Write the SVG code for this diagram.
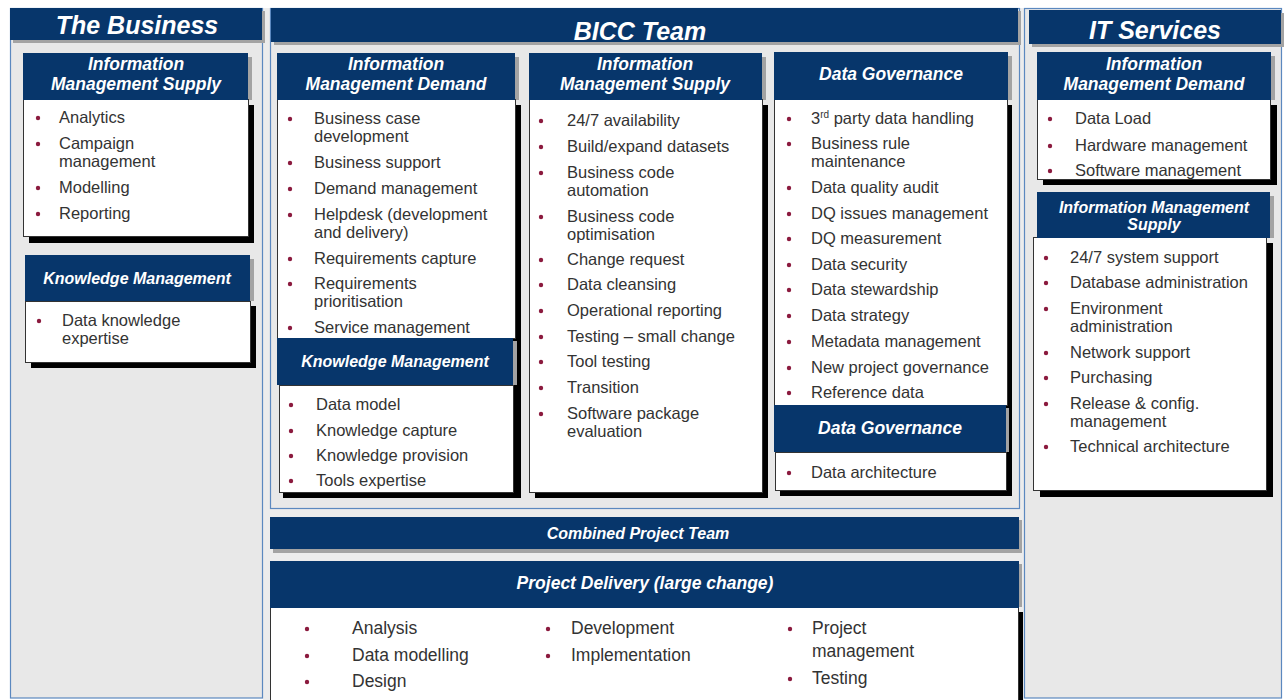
<svg xmlns="http://www.w3.org/2000/svg" width="1287" height="700" viewBox="0 0 1287 700">
  <style>
    .panel { fill: #e8e8e8; stroke: #5b88bf; stroke-width: 1.2; }
    .bar { fill: #07366b; }
    .bshadow { fill: #a3a3a3; }
    .body { fill: #ffffff; stroke: #333333; stroke-width: 1; }
    .kshadow { fill: #000000; }
    .title { font-family: "Liberation Sans", Arial, sans-serif; font-weight: bold; font-style: italic; font-size: 25px; fill: #ffffff; text-anchor: middle; }
    .head { font-family: "Liberation Sans", Arial, sans-serif; font-weight: bold; font-style: italic; font-size: 17.5px; fill: #ffffff; text-anchor: middle; }
    .head2 { font-family: "Liberation Sans", Arial, sans-serif; font-weight: bold; font-style: italic; font-size: 16px; fill: #ffffff; text-anchor: middle; }
    .item { font-family: "Liberation Sans", Arial, sans-serif; font-size: 16.5px; fill: #333333; }
    .big { font-family: "Liberation Sans", Arial, sans-serif; font-size: 17.5px; fill: #333333; }
    .dot { fill: #8b1a3e; }
  </style>

  <rect width="1287" height="700" fill="#ffffff"/>

  <!-- column panels -->
  <g id="panels">
    <rect x="263" y="8" width="761" height="692" fill="#ececec"/>
    <rect class="panel" x="10.5" y="8.5" width="252" height="689.5"/>
    <rect class="panel" x="270.5" y="8.5" width="749" height="500"/>
    <rect class="panel" x="1024.5" y="8.5" width="257" height="689.5"/>
  </g>

  <!-- column titles -->
  <g id="title-business">
    <rect class="bshadow" x="13" y="11" width="252" height="32"/>
    <rect class="bar" x="10" y="8" width="252" height="32"/>
    <text class="title" x="137" y="34">The Business</text>
  </g>
  <g id="title-bicc">
    <rect class="bshadow" x="274" y="11" width="747" height="34"/>
    <rect class="bar" x="271" y="8" width="747" height="34"/>
    <text class="title" x="640" y="40">BICC Team</text>
  </g>
  <g id="title-it">
    <rect class="bshadow" x="1032" y="13" width="252" height="34"/>
    <rect class="bar" x="1029" y="10" width="252" height="34"/>
    <text class="title" x="1155" y="39">IT Services</text>
  </g>

  <!-- The Business: Information Management Supply -->
  <g id="biz-ims">
    <rect class="kshadow" x="29" y="105" width="225" height="138"/>
    <rect class="bshadow" x="27" y="57" width="225" height="43"/>
    <rect class="body" x="23.5" y="99.5" width="225" height="137"/>
    <rect class="bar" x="23" y="53" width="225" height="47"/>
    <text class="head" x="136" y="70">Information</text>
    <text class="head" x="136" y="90">Management Supply</text>
    <circle class="dot" cx="38" cy="118" r="2.2"/>
    <circle class="dot" cx="38" cy="144" r="2.2"/>
    <circle class="dot" cx="38" cy="188" r="2.2"/>
    <circle class="dot" cx="38" cy="214" r="2.2"/>
    <text class="item" x="59" y="123">Analytics</text>
    <text class="item" x="59" y="149">Campaign</text>
    <text class="item" x="59" y="167">management</text>
    <text class="item" x="59" y="193">Modelling</text>
    <text class="item" x="59" y="219">Reporting</text>
  </g>

  <!-- The Business: Knowledge Management -->
  <g id="biz-km">
    <rect class="kshadow" x="31" y="306" width="225" height="62"/>
    <rect class="bshadow" x="29" y="259" width="225" height="42"/>
    <rect class="body" x="25.5" y="301.5" width="225" height="61"/>
    <rect class="bar" x="25" y="255" width="225" height="46"/>
    <text class="head2" x="137" y="284">Knowledge Management</text>
    <circle class="dot" cx="39" cy="321" r="2.2"/>
    <text class="item" x="62" y="326">Data knowledge</text>
    <text class="item" x="62" y="344">expertise</text>
  </g>

  <!-- BICC: Information Management Demand + Knowledge Management -->
  <g id="bicc-imd">
    <rect class="kshadow" x="283" y="105" width="238" height="393"/>
    <rect class="bshadow" x="281" y="57" width="238" height="43"/>
    <rect class="body" x="277.5" y="99.5" width="238" height="239"/>
    <rect class="bar" x="277" y="53" width="238" height="47"/>
    <text class="head" x="396" y="70">Information</text>
    <text class="head" x="396" y="90">Management Demand</text>
    <circle class="dot" cx="290" cy="119" r="2.2"/>
    <circle class="dot" cx="290" cy="163" r="2.2"/>
    <circle class="dot" cx="290" cy="189" r="2.2"/>
    <circle class="dot" cx="290" cy="215" r="2.2"/>
    <circle class="dot" cx="290" cy="259" r="2.2"/>
    <circle class="dot" cx="290" cy="284" r="2.2"/>
    <circle class="dot" cx="290" cy="328" r="2.2"/>
    <text class="item" x="314" y="124">Business case</text>
    <text class="item" x="314" y="142">development</text>
    <text class="item" x="314" y="168">Business support</text>
    <text class="item" x="314" y="194">Demand management</text>
    <text class="item" x="314" y="220">Helpdesk (development</text>
    <text class="item" x="314" y="238">and delivery)</text>
    <text class="item" x="314" y="264">Requirements capture</text>
    <text class="item" x="314" y="289">Requirements</text>
    <text class="item" x="314" y="307">prioritisation</text>
    <text class="item" x="314" y="333">Service management</text>
  </g>
  <g id="bicc-km">
    <rect class="bshadow" x="281" y="341" width="236" height="44"/>
    <rect class="body" x="279.5" y="385.5" width="234" height="107"/>
    <rect class="bar" x="277" y="338" width="236" height="47"/>
    <text class="head2" x="395" y="367">Knowledge Management</text>
    <circle class="dot" cx="291" cy="405" r="2.2"/>
    <circle class="dot" cx="291" cy="431" r="2.2"/>
    <circle class="dot" cx="291" cy="456" r="2.2"/>
    <circle class="dot" cx="291" cy="481" r="2.2"/>
    <text class="item" x="316" y="410">Data model</text>
    <text class="item" x="316" y="436">Knowledge capture</text>
    <text class="item" x="316" y="461">Knowledge provision</text>
    <text class="item" x="316" y="486">Tools expertise</text>
  </g>

  <!-- BICC: Information Management Supply -->
  <g id="bicc-ims">
    <rect class="kshadow" x="535" y="105" width="233" height="393"/>
    <rect class="bshadow" x="533" y="57" width="233" height="43"/>
    <rect class="body" x="529.5" y="99.5" width="233" height="393"/>
    <rect class="bar" x="529" y="53" width="233" height="47"/>
    <text class="head" x="645" y="70">Information</text>
    <text class="head" x="645" y="90">Management Supply</text>
    <circle class="dot" cx="541" cy="121" r="2.2"/>
    <circle class="dot" cx="541" cy="147" r="2.2"/>
    <circle class="dot" cx="541" cy="173" r="2.2"/>
    <circle class="dot" cx="541" cy="217" r="2.2"/>
    <circle class="dot" cx="541" cy="260" r="2.2"/>
    <circle class="dot" cx="541" cy="285" r="2.2"/>
    <circle class="dot" cx="541" cy="311" r="2.2"/>
    <circle class="dot" cx="541" cy="337" r="2.2"/>
    <circle class="dot" cx="541" cy="362" r="2.2"/>
    <circle class="dot" cx="541" cy="388" r="2.2"/>
    <circle class="dot" cx="541" cy="414" r="2.2"/>
    <text class="item" x="567" y="126">24/7 availability</text>
    <text class="item" x="567" y="152">Build/expand  datasets</text>
    <text class="item" x="567" y="178">Business code</text>
    <text class="item" x="567" y="196">automation</text>
    <text class="item" x="567" y="222">Business code</text>
    <text class="item" x="567" y="240">optimisation</text>
    <text class="item" x="567" y="265">Change request</text>
    <text class="item" x="567" y="290">Data cleansing</text>
    <text class="item" x="567" y="316">Operational reporting</text>
    <text class="item" x="567" y="342">Testing – small change</text>
    <text class="item" x="567" y="367">Tool testing</text>
    <text class="item" x="567" y="393">Transition</text>
    <text class="item" x="567" y="419">Software package</text>
    <text class="item" x="567" y="437">evaluation</text>
  </g>

  <!-- BICC: Data Governance (two stacked boxes) -->
  <g id="bicc-dg">
    <rect class="kshadow" x="780" y="105" width="232" height="391"/>
    <rect class="bshadow" x="778" y="56" width="234" height="44"/>
    <rect class="body" x="774.5" y="99.5" width="233" height="306"/>
    <rect class="bar" x="774" y="52" width="234" height="48"/>
    <text class="head" x="891" y="80">Data Governance</text>
    <circle class="dot" cx="789" cy="119" r="2.2"/>
    <circle class="dot" cx="789" cy="144" r="2.2"/>
    <circle class="dot" cx="789" cy="188" r="2.2"/>
    <circle class="dot" cx="789" cy="214" r="2.2"/>
    <circle class="dot" cx="789" cy="239" r="2.2"/>
    <circle class="dot" cx="789" cy="265" r="2.2"/>
    <circle class="dot" cx="789" cy="290" r="2.2"/>
    <circle class="dot" cx="789" cy="316" r="2.2"/>
    <circle class="dot" cx="789" cy="342" r="2.2"/>
    <circle class="dot" cx="789" cy="368" r="2.2"/>
    <circle class="dot" cx="789" cy="393" r="2.2"/>
    <text class="item" x="811" y="124">3<tspan font-size="10" dy="-6">rd</tspan><tspan dy="6"> party data handling</tspan></text>
    <text class="item" x="811" y="149">Business rule</text>
    <text class="item" x="811" y="167">maintenance</text>
    <text class="item" x="811" y="193">Data quality audit</text>
    <text class="item" x="811" y="219">DQ issues management</text>
    <text class="item" x="811" y="244">DQ measurement</text>
    <text class="item" x="811" y="270">Data security</text>
    <text class="item" x="811" y="295">Data stewardship</text>
    <text class="item" x="811" y="321">Data strategy</text>
    <text class="item" x="811" y="347">Metadata  management</text>
    <text class="item" x="811" y="373">New project governance</text>
    <text class="item" x="811" y="398">Reference data</text>
  </g>
  <g id="bicc-dg2">
    <rect class="bshadow" x="777" y="408" width="232" height="44"/>
    <rect class="body" x="775.5" y="452.5" width="231" height="38"/>
    <rect class="bar" x="774" y="405" width="232" height="47"/>
    <text class="head" x="890" y="434">Data Governance</text>
    <circle class="dot" cx="789" cy="473" r="2.2"/>
    <text class="item" x="811" y="478">Data architecture</text>
  </g>

  <!-- IT Services: Information Management Demand -->
  <g id="it-imd">
    <rect class="kshadow" x="1043" y="105" width="234" height="80"/>
    <rect class="bshadow" x="1041" y="56" width="234" height="44"/>
    <rect class="body" x="1037.5" y="99.5" width="233" height="80"/>
    <rect class="bar" x="1037" y="52" width="234" height="48"/>
    <text class="head" x="1154" y="70">Information</text>
    <text class="head" x="1154" y="90">Management Demand</text>
    <circle class="dot" cx="1050" cy="119" r="2.2"/>
    <circle class="dot" cx="1050" cy="146" r="2.2"/>
    <circle class="dot" cx="1050" cy="171" r="2.2"/>
    <text class="item" x="1075" y="124">Data Load</text>
    <text class="item" x="1075" y="151">Hardware  management</text>
    <text class="item" x="1075" y="176">Software management</text>
  </g>

  <!-- IT Services: Information Management Supply -->
  <g id="it-ims">
    <rect class="kshadow" x="1040" y="243" width="233" height="254"/>
    <rect class="bshadow" x="1041" y="196" width="233" height="42"/>
    <rect class="body" x="1033.5" y="237.5" width="233" height="253"/>
    <rect class="bar" x="1037" y="192" width="233" height="46"/>
    <text class="head2" x="1154" y="213">Information Management</text>
    <text class="head2" x="1154" y="230">Supply</text>
    <circle class="dot" cx="1046" cy="258" r="2.2"/>
    <circle class="dot" cx="1046" cy="283" r="2.2"/>
    <circle class="dot" cx="1046" cy="309" r="2.2"/>
    <circle class="dot" cx="1046" cy="353" r="2.2"/>
    <circle class="dot" cx="1046" cy="378" r="2.2"/>
    <circle class="dot" cx="1046" cy="404" r="2.2"/>
    <circle class="dot" cx="1046" cy="447" r="2.2"/>
    <text class="item" x="1070" y="263">24/7 system support</text>
    <text class="item" x="1070" y="288">Database administration</text>
    <text class="item" x="1070" y="314">Environment</text>
    <text class="item" x="1070" y="332">administration</text>
    <text class="item" x="1070" y="358">Network support</text>
    <text class="item" x="1070" y="383">Purchasing</text>
    <text class="item" x="1070" y="409">Release &amp; config.</text>
    <text class="item" x="1070" y="427">management</text>
    <text class="item" x="1070" y="452">Technical architecture</text>
  </g>

  <!-- Combined Project Team bar -->
  <g id="combined-team">
    <rect class="bshadow" x="273" y="520" width="749" height="33"/>
    <rect class="bar" x="270" y="517" width="749" height="32"/>
    <text class="head2" x="638" y="539">Combined Project Team</text>
  </g>

  <!-- Project Delivery (large change) -->
  <g id="project-delivery">
    <rect class="bshadow" x="273" y="564" width="749" height="43"/>
    <rect class="kshadow" x="276" y="612" width="747" height="88"/>
    <rect class="body" x="270.5" y="607.5" width="748" height="95"/>
    <rect class="bar" x="270" y="561" width="749" height="47"/>
    <text class="head" x="645" y="589">Project Delivery (large change)</text>
    <circle class="dot" cx="307" cy="629" r="2.2"/>
    <circle class="dot" cx="307" cy="656" r="2.2"/>
    <circle class="dot" cx="307" cy="682" r="2.2"/>
    <circle class="dot" cx="548" cy="629" r="2.2"/>
    <circle class="dot" cx="548" cy="656" r="2.2"/>
    <circle class="dot" cx="790" cy="629" r="2.2"/>
    <circle class="dot" cx="790" cy="679" r="2.2"/>
    <text class="big" x="352" y="634">Analysis</text>
    <text class="big" x="352" y="661">Data modelling</text>
    <text class="big" x="352" y="687">Design</text>
    <text class="big" x="571" y="634">Development</text>
    <text class="big" x="571" y="661">Implementation</text>
    <text class="big" x="812" y="634">Project</text>
    <text class="big" x="812" y="657">management</text>
    <text class="big" x="812" y="684">Testing</text>
  </g>
</svg>
